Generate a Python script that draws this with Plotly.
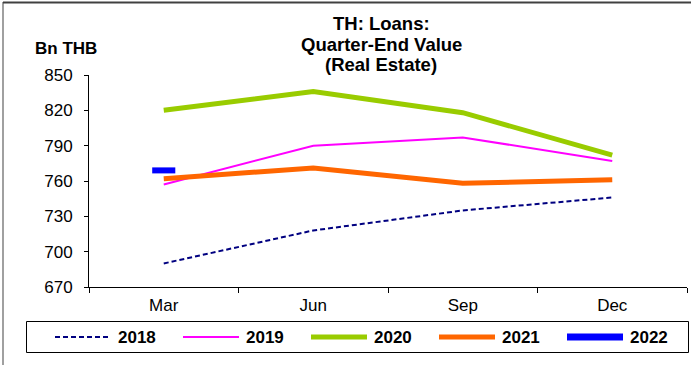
import plotly.graph_objects as go

# Quarter-end outstanding real-estate loans, Bn THB
quarters = ["Mar", "Jun", "Sep", "Dec"]
loans_2018 = [690, 718, 735, 746]
loans_2019 = [757, 790, 797, 777]
loans_2020 = [820, 836, 818, 782]
loans_2021 = [762, 771, 758, 761]
loans_2022 = [769]

y_ticks = [670, 700, 730, 760, 790, 820, 850]

W, H = 693, 365
ML, MR, MT, MB = 89, 6, 75, 78
PW, PH = W - ML - MR, H - MT - MB


def px_x(px):
    return (px - ML) / PW


def px_y(py):
    return (H - MB - py) / PH


FONT = "Liberation Sans, Arial, sans-serif"

series = [
    ("2018", loans_2018, dict(color="#000080", width=2, dash="5px,3px")),
    ("2019", loans_2019, dict(color="#FF00FF", width=2)),
    ("2020", loans_2020, dict(color="#99CC00", width=5)),
    ("2021", loans_2021, dict(color="#FF6600", width=5)),
]

fig = go.Figure()
for name, vals, style in series:
    fig.add_trace(go.Scatter(x=quarters[:len(vals)], y=vals, name=name,
                             mode="lines", line=style))
# single quarter so far: drawn as a short dash marker
fig.add_trace(go.Scatter(x=quarters[:len(loans_2022)], y=loans_2022, name="2022",
                         mode="markers",
                         marker=dict(symbol="line-ew", size=16.5, color="#0000FF",
                                     line=dict(color="#0000FF", width=6))))

title_lines = ["TH: Loans:", "Quarter-End Value", "(Real Estate)"]
title_y = [23, 44, 65]
annotations = [
    dict(text="<b>%s</b>" % t, x=px_x(381), y=px_y(yy), xref="paper", yref="paper",
         xanchor="center", yanchor="middle", showarrow=False,
         font=dict(family=FONT, size=18.5, color="black"))
    for t, yy in zip(title_lines, title_y)
]
annotations.append(dict(text="<b>Bn THB</b>", x=px_x(66), y=px_y(48), xref="paper",
                        yref="paper", xanchor="center", yanchor="middle",
                        showarrow=False, font=dict(family=FONT, size=17, color="black")))

shapes = [
    dict(type="line", xref="paper", yref="paper", x0=px_x(3), x1=px_x(3),
         y0=px_y(366), y1=px_y(2), line=dict(color="#A0A0A0", width=2)),
    dict(type="line", xref="paper", yref="paper", x0=px_x(3), x1=px_x(691),
         y0=px_y(2.5), y1=px_y(2.5), line=dict(color="#404040", width=2)),
    # legend frame
    dict(type="rect", xref="paper", yref="paper", x0=px_x(26.5), x1=px_x(688.5),
         y0=px_y(321.5), y1=px_y(352.5), line=dict(color="black", width=1),
         fillcolor="white", layer="above"),
]

# legend: one row of line samples with bold labels
legend_styles = [s[2] for s in series] + [dict(color="#0000FF", width=7)]
legend_names = [s[0] for s in series] + ["2022"]
LEG_Y = 337
for i, (name, style) in enumerate(zip(legend_names, legend_styles)):
    x0 = 55 + i * 128
    ls = dict(color=style["color"], width=style["width"])
    if "dash" in style:
        ls["dash"] = style["dash"]
    shapes.append(dict(type="line", xref="paper", yref="paper",
                       x0=px_x(x0), x1=px_x(x0 + 56), y0=px_y(LEG_Y), y1=px_y(LEG_Y),
                       line=ls, layer="above"))
    annotations.append(dict(text="<b>%s</b>" % name, x=px_x(x0 + 61), y=px_y(LEG_Y + 0.5),
                            xref="paper", yref="paper", xanchor="left",
                            yanchor="middle", showarrow=False,
                            font=dict(family=FONT, size=17, color="black")))

fig.update_layout(
    width=W, height=H,
    margin=dict(l=ML, r=MR, t=MT, b=MB, pad=0, autoexpand=False),
    paper_bgcolor="white", plot_bgcolor="white",
    font=dict(family=FONT, size=17, color="black"),
    annotations=annotations,
    shapes=shapes,
    showlegend=False,
)
fig.update_xaxes(type="category", categoryorder="array", categoryarray=quarters,
                 range=[-0.5, 3.5], tickson="boundaries", ticks="outside",
                 ticklen=5, tickcolor="black", showline=True, linecolor="black",
                 linewidth=1, showgrid=False, zeroline=False,
                 tickfont=dict(family=FONT, size=17), ticklabelstandoff=3)
fig.update_yaxes(range=[670, 850], tickvals=y_ticks, ticks="outside", ticklen=4,
                 tickcolor="black", showline=True, linecolor="black", linewidth=1,
                 showgrid=False, zeroline=False, ticklabelstandoff=8,
                 tickfont=dict(family=FONT, size=17))

fig.write_html("out.html")
